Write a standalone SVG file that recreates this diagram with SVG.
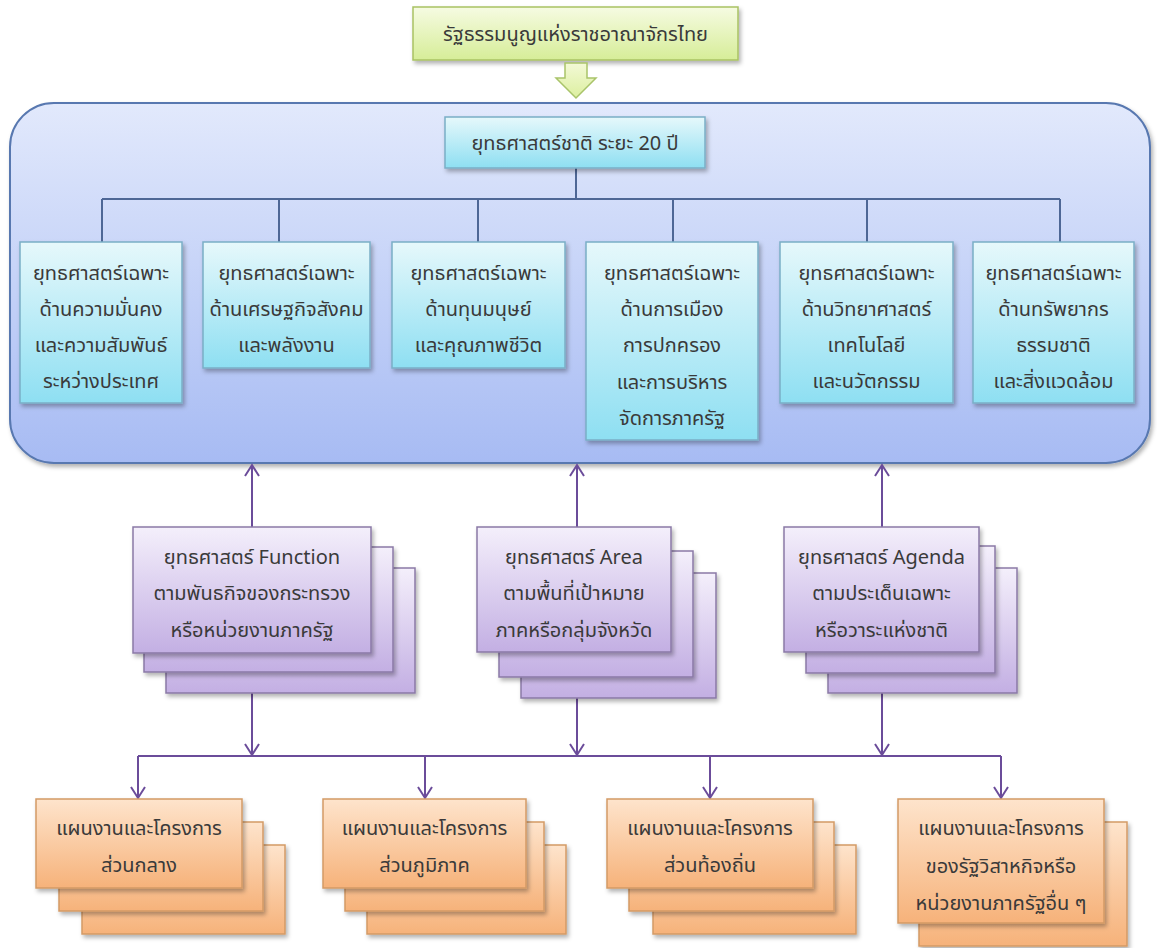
<svg xmlns="http://www.w3.org/2000/svg" width="1157" height="948" viewBox="0 0 1157 948">
<defs>
<linearGradient id="gGreen" x1="0" y1="0" x2="0" y2="1"><stop offset="0" stop-color="#f6fbe2"/><stop offset="1" stop-color="#d6ed98"/></linearGradient>
<linearGradient id="gArrow" x1="0" y1="0" x2="0" y2="1"><stop offset="0" stop-color="#f3f9d6"/><stop offset="1" stop-color="#dcef9f"/></linearGradient>
<linearGradient id="gBig" x1="0" y1="0" x2="0" y2="1"><stop offset="0" stop-color="#e2e9fc"/><stop offset="1" stop-color="#a7bbf3"/></linearGradient>
<linearGradient id="gBlue" x1="0" y1="0" x2="0" y2="1"><stop offset="0" stop-color="#e6f8fb"/><stop offset="1" stop-color="#8edff2"/></linearGradient>
<linearGradient id="gPurple" x1="0" y1="0" x2="0" y2="1"><stop offset="0" stop-color="#f4effb"/><stop offset="1" stop-color="#c3afe3"/></linearGradient>
<linearGradient id="gOrange" x1="0" y1="0" x2="0" y2="1"><stop offset="0" stop-color="#fee4cc"/><stop offset="1" stop-color="#f6b27a"/></linearGradient>
<filter id="sh" x="-10%" y="-10%" width="125%" height="130%"><feDropShadow dx="2" dy="3" stdDeviation="2" flood-color="#000" flood-opacity="0.3"/></filter>
<marker id="ah" markerUnits="userSpaceOnUse" markerWidth="16" markerHeight="16" viewBox="0 0 16 16" refX="14" refY="8" orient="auto"><path d="M3,1 L14,8 L3,15" fill="none" stroke="#6b4c9a" stroke-width="2"/></marker>
</defs>
<style>
text{font-family:"Noto Sans Thai","Noto Sans","DejaVu Sans",sans-serif;font-size:20px;fill:#3a3a3a;text-anchor:middle}
.green{fill:url(#gGreen);stroke:#a9c263;stroke-width:1.5}
.big{fill:url(#gBig);stroke:#5878b0;stroke-width:2}
.blue{fill:url(#gBlue);stroke:#7aaec6;stroke-width:1.5}
.purple{fill:url(#gPurple);stroke:#8a79a6;stroke-width:1.5}
.orange{fill:url(#gOrange);stroke:#d39a66;stroke-width:1.5}
.bl{stroke:#4e6796;stroke-width:2;fill:none}
.pl{stroke:#6b4c9a;stroke-width:2;fill:none}
</style>
<rect width="1157" height="948" fill="#ffffff"/>

<g id="constitution">
<rect class="green" x="413" y="7" width="325" height="53" filter="url(#sh)"/>
<text x="575.5" y="41">รัฐธรรมนูญแห่งราชอาณาจักรไทย</text>
</g>
<g id="bigArrow">
<path d="M565,63 L587,63 L587,78 L596,78 L576,98 L556,78 L565,78 Z" fill="url(#gArrow)" stroke="#a9c46a" stroke-width="1.5"/>
</g>
<g id="container">
<rect class="big" x="10" y="103" width="1140" height="360" rx="44" ry="44" filter="url(#sh)"/>
</g>

<g id="connectors">
<path class="bl" d="M576,168 V199 M102,199 H1060 M102,199 V242 M279,199 V242 M478,199 V242 M673,199 V242 M867,199 V242 M1060,199 V242"/>
<path class="pl" d="M252,527 V465" marker-end="url(#ah)"/>
<path class="pl" d="M577,527 V465" marker-end="url(#ah)"/>
<path class="pl" d="M882,527 V465" marker-end="url(#ah)"/>
<path class="pl" d="M252,693 V755" marker-end="url(#ah)"/>
<path class="pl" d="M577,698 V755" marker-end="url(#ah)"/>
<path class="pl" d="M882,693 V755" marker-end="url(#ah)"/>
<path class="pl" d="M138,756 H1001"/>
<path class="pl" d="M138,756 V798" marker-end="url(#ah)"/>
<path class="pl" d="M425,756 V798" marker-end="url(#ah)"/>
<path class="pl" d="M710,756 V798" marker-end="url(#ah)"/>
<path class="pl" d="M1001,756 V798" marker-end="url(#ah)"/>
</g>

<g id="national">
<rect class="blue" x="445" y="117" width="260" height="51" filter="url(#sh)"/>
<text x="575" y="150">ยุทธศาสตร์ชาติ ระยะ 20 ปี</text>
</g>

<g id="s1">
<rect class="blue" x="20" y="242" width="162" height="161" filter="url(#sh)"/>
<text x="101" y="280">ยุทธศาสตร์เฉพาะ</text>
<text x="101" y="316">ด้านความมั่นคง</text>
<text x="101" y="352">และความสัมพันธ์</text>
<text x="101" y="388">ระหว่างประเทศ</text>
</g>
<g id="s2">
<rect class="blue" x="203" y="242" width="167" height="126" filter="url(#sh)"/>
<text x="286.5" y="280">ยุทธศาสตร์เฉพาะ</text>
<text x="286.5" y="316">ด้านเศรษฐกิจสังคม</text>
<text x="286.5" y="352">และพลังงาน</text>
</g>
<g id="s3">
<rect class="blue" x="392" y="242" width="173" height="126" filter="url(#sh)"/>
<text x="478.5" y="280">ยุทธศาสตร์เฉพาะ</text>
<text x="478.5" y="316">ด้านทุนมนุษย์</text>
<text x="478.5" y="352">และคุณภาพชีวิต</text>
</g>
<g id="s4">
<rect class="blue" x="586" y="242" width="172" height="198" filter="url(#sh)"/>
<text x="672" y="280">ยุทธศาสตร์เฉพาะ</text>
<text x="672" y="316">ด้านการเมือง</text>
<text x="672" y="352">การปกครอง</text>
<text x="672" y="389">และการบริหาร</text>
<text x="672" y="425">จัดการภาครัฐ</text>
</g>
<g id="s5">
<rect class="blue" x="780" y="242" width="173" height="161" filter="url(#sh)"/>
<text x="866.5" y="280">ยุทธศาสตร์เฉพาะ</text>
<text x="866.5" y="316">ด้านวิทยาศาสตร์</text>
<text x="866.5" y="352">เทคโนโลยี</text>
<text x="866.5" y="388">และนวัตกรรม</text>
</g>
<g id="s6">
<rect class="blue" x="973" y="242" width="161" height="161" filter="url(#sh)"/>
<text x="1053.5" y="280">ยุทธศาสตร์เฉพาะ</text>
<text x="1053.5" y="316">ด้านทรัพยากร</text>
<text x="1053.5" y="352">ธรรมชาติ</text>
<text x="1053.5" y="388">และสิ่งแวดล้อม</text>
</g>

<g id="function">
<rect class="purple" x="166" y="568" width="249" height="125" filter="url(#sh)"/>
<rect class="purple" x="144" y="547" width="249" height="125" filter="url(#sh)"/>
<rect class="purple" x="133" y="527" width="238" height="126" filter="url(#sh)"/>
<text x="252" y="564">ยุทธศาสตร์ Function</text>
<text x="252" y="600">ตามพันธกิจของกระทรวง</text>
<text x="252" y="637">หรือหน่วยงานภาครัฐ</text>
</g>
<g id="area">
<rect class="purple" x="521" y="573" width="195" height="125" filter="url(#sh)"/>
<rect class="purple" x="499" y="551" width="194" height="126" filter="url(#sh)"/>
<rect class="purple" x="477" y="527" width="194" height="125" filter="url(#sh)"/>
<text x="574" y="564">ยุทธศาสตร์ Area</text>
<text x="574" y="600">ตามพื้นที่เป้าหมาย</text>
<text x="574" y="637">ภาคหรือกลุ่มจังหวัด</text>
</g>
<g id="agenda">
<rect class="purple" x="828" y="568" width="189" height="125" filter="url(#sh)"/>
<rect class="purple" x="806" y="546" width="189" height="127" filter="url(#sh)"/>
<rect class="purple" x="784" y="527" width="195" height="125" filter="url(#sh)"/>
<text x="881.5" y="564">ยุทธศาสตร์ Agenda</text>
<text x="881.5" y="600">ตามประเด็นเฉพาะ</text>
<text x="881.5" y="637">หรือวาระแห่งชาติ</text>
</g>

<g id="plan1">
<rect class="orange" x="82" y="845" width="203" height="89" filter="url(#sh)"/>
<rect class="orange" x="59" y="822" width="204" height="89" filter="url(#sh)"/>
<rect class="orange" x="36" y="799" width="206" height="89" filter="url(#sh)"/>
<text x="139" y="835">แผนงานและโครงการ</text>
<text x="139" y="872">ส่วนกลาง</text>
</g>
<g id="plan2">
<rect class="orange" x="367" y="845" width="199" height="89" filter="url(#sh)"/>
<rect class="orange" x="345" y="822" width="199" height="89" filter="url(#sh)"/>
<rect class="orange" x="323" y="799" width="203" height="89" filter="url(#sh)"/>
<text x="424.5" y="835">แผนงานและโครงการ</text>
<text x="424.5" y="872">ส่วนภูมิภาค</text>
</g>
<g id="plan3">
<rect class="orange" x="653" y="845" width="203" height="89" filter="url(#sh)"/>
<rect class="orange" x="629" y="822" width="205" height="89" filter="url(#sh)"/>
<rect class="orange" x="607" y="799" width="206" height="89" filter="url(#sh)"/>
<text x="710" y="835">แผนงานและโครงการ</text>
<text x="710" y="872">ส่วนท้องถิ่น</text>
</g>
<g id="plan4">
<rect class="orange" x="919" y="822" width="208" height="124" filter="url(#sh)"/>
<rect class="orange" x="898" y="799" width="206" height="124" filter="url(#sh)"/>
<text x="1001" y="835">แผนงานและโครงการ</text>
<text x="1001" y="873">ของรัฐวิสาหกิจหรือ</text>
<text x="1001" y="910">หน่วยงานภาครัฐอื่น ๆ</text>
</g>
</svg>
